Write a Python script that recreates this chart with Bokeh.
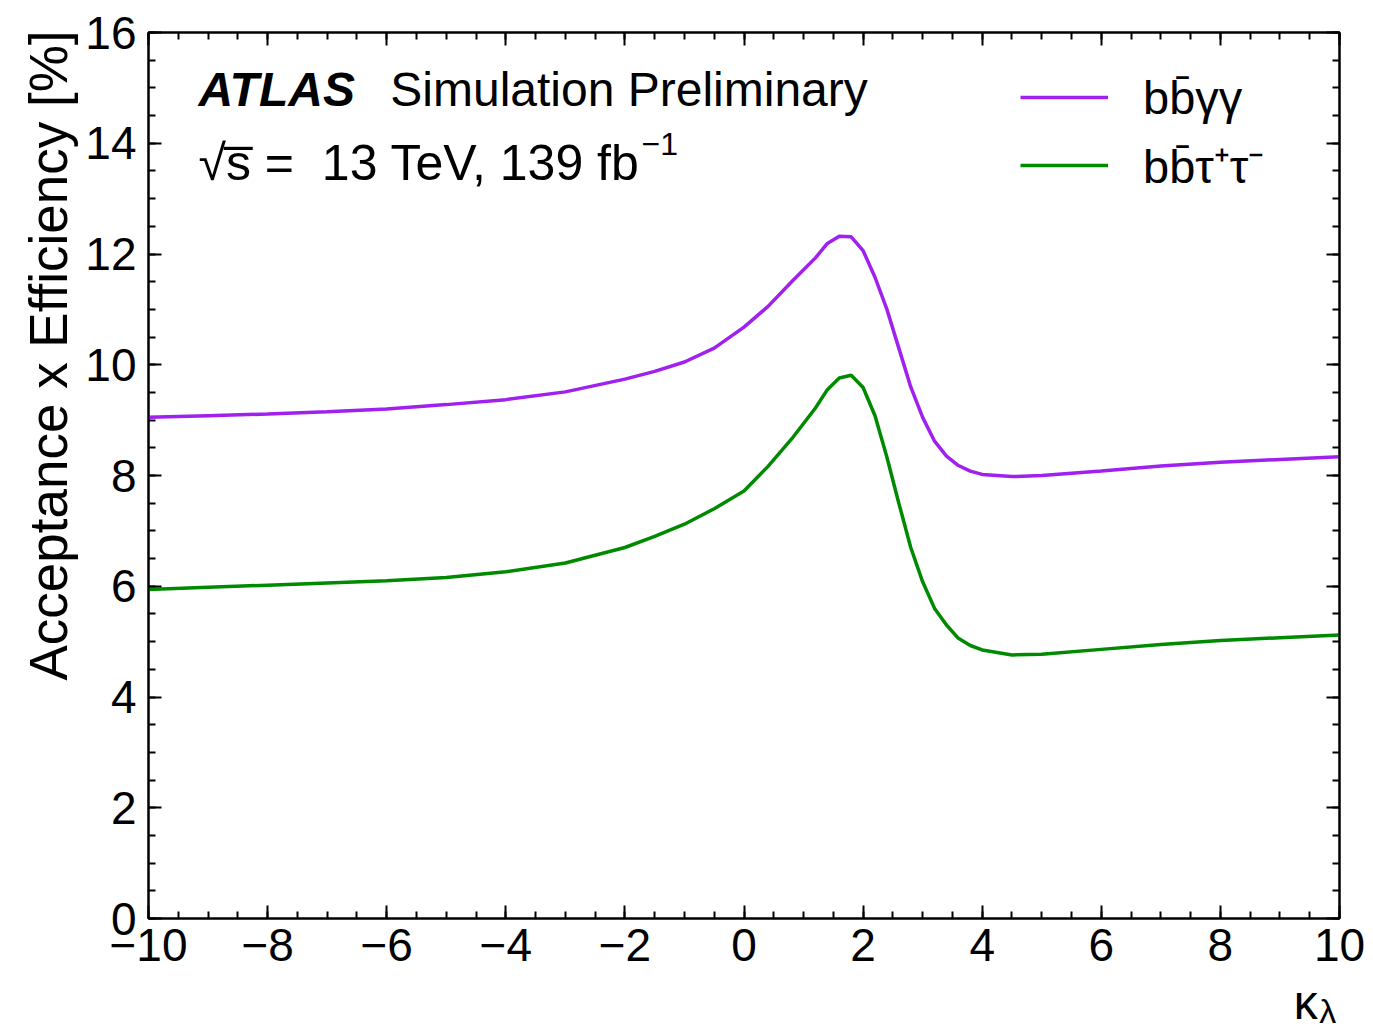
import numpy as np
from bokeh.plotting import figure
from bokeh.layouts import column
from bokeh.models import (Range1d, FixedTicker, LinearAxis, Label, Legend, LegendItem,
                          Title, CustomLabelingPolicy)
from bokeh.core.properties import value
from bokeh.embed import file_html
from bokeh.resources import INLINE

# ---------------- data ----------------
kappa = [-10, -9, -8, -7, -6, -5, -4, -3, -2, -1.5, -1, -0.5, 0, 0.4, 0.8, 1.2, 1.4,
         1.6, 1.8, 2.0, 2.2, 2.4, 2.6, 2.8, 3.0, 3.2, 3.4, 3.6, 3.8, 4.0, 4.5, 5, 6,
         7, 8, 9, 10]
acc_bbyy = [9.05, 9.08, 9.11, 9.15, 9.20, 9.28, 9.37, 9.51, 9.74, 9.88, 10.05, 10.30,
            10.68, 11.05, 11.50, 11.93, 12.19, 12.32, 12.31, 12.06, 11.58, 11.00, 10.30,
            9.60, 9.05, 8.62, 8.35, 8.18, 8.08, 8.02, 7.98, 8.00, 8.08, 8.17, 8.24,
            8.29, 8.34]
acc_bbtautau = [5.94, 5.98, 6.02, 6.06, 6.10, 6.16, 6.26, 6.42, 6.70, 6.90, 7.12, 7.40,
                7.72, 8.16, 8.66, 9.22, 9.55, 9.76, 9.81, 9.59, 9.08, 8.33, 7.50, 6.70,
                6.08, 5.60, 5.30, 5.06, 4.93, 4.85, 4.76, 4.77, 4.86, 4.95, 5.02, 5.07,
                5.12]
series_names = ["bb\u0304\u03b3\u03b3", "bb\u0304\u03c4\u207a\u03c4\u207b"]
series_colors = ["#a020f0", "#008a00"]

x_ticks = [-10, -8, -6, -4, -2, 0, 2, 4, 6, 8, 10]
x_tick_labels = ["\u221210", "\u22128", "\u22126", "\u22124", "\u22122", "0", "2", "4", "6", "8", "10"]
y_ticks = [0, 2, 4, 6, 8, 10, 12, 14, 16]
y_tick_labels = ["0", "2", "4", "6", "8", "10", "12", "14", "16"]

y_title = "Acceptance x Efficiency [%]"
x_title_main = "\u03ba"
x_title_sub = "\u03bb"

FONT = "Liberation Sans"
FS = "46px"
W = 1365

p = figure(width=W, height=985, output_backend="svg", toolbar_location=None,
           x_range=Range1d(-10, 10), y_range=Range1d(0, 16),
           min_border_left=148, min_border_right=26, min_border_top=32,
           min_border_bottom=67, background_fill_color="white",
           border_fill_color="white")
p.xgrid.visible = False
p.ygrid.visible = False
p.outline_line_color = "black"
p.outline_line_width = 2

x_minor = list(np.arange(-10, 10.01, 0.5))
y_minor = list(np.arange(0, 16.01, 0.5))

def style_axis(ax, ticks, minor, labels, show_labels):
    ax.ticker = FixedTicker(ticks=ticks, minor_ticks=minor)
    ax.axis_line_color = "black"
    ax.axis_line_width = 2
    ax.major_tick_in = 13
    ax.major_tick_out = 0
    ax.minor_tick_in = 7
    ax.minor_tick_out = 0
    ax.major_tick_line_width = 2
    ax.minor_tick_line_width = 2
    ax.major_tick_line_color = "black"
    ax.minor_tick_line_color = "black"
    ax.major_label_text_font = FONT
    ax.major_label_text_color = "black"
    if show_labels:
        ax.major_label_text_font_size = FS
        ax.major_label_overrides = {t: l for t, l in zip(ticks, labels)}
    else:
        ax.major_label_text_font_size = "1px"
        ax.major_label_standoff = 0
        ax.major_label_policy = CustomLabelingPolicy(
            code="for (const i of indices) indices.unset(i); return indices")
    ax.axis_label = None

style_axis(p.xaxis[0], x_ticks, x_minor, x_tick_labels, True)
style_axis(p.yaxis[0], y_ticks, y_minor, y_tick_labels, True)
p.xaxis[0].major_label_standoff = 10
p.yaxis[0].major_label_standoff = 12

ax_top = LinearAxis()
style_axis(ax_top, x_ticks, x_minor, x_tick_labels, False)
p.add_layout(ax_top, "above")
ax_right = LinearAxis()
style_axis(ax_right, y_ticks, y_minor, y_tick_labels, False)
p.add_layout(ax_right, "right")

# y-axis title, aligned to the top of the axis
p.add_layout(Title(text=y_title, align="right", text_font=FONT, text_font_size="53px",
                   text_font_style="normal", text_color="black", standoff=10,
                   offset=-2), "left")

r1 = p.line(kappa, acc_bbyy, line_color=series_colors[0], line_width=3.5)
r2 = p.line(kappa, acc_bbtautau, line_color=series_colors[1], line_width=3.5)

legend = Legend(items=[LegendItem(label=series_names[0], renderers=[r1]),
                       LegendItem(label=series_names[1], renderers=[r2])],
                location=(872, 719), glyph_width=88, glyph_height=68,
                label_height=68, label_standoff=35, spacing=0, padding=0,
                margin=0, border_line_alpha=0, background_fill_alpha=0,
                label_text_font=FONT, label_text_font_size="47px",
                label_text_color="black", label_text_baseline="middle")
p.add_layout(legend)

# texts inside the frame
p.add_layout(Label(x=-9.16, y=14.97, text="ATLAS", text_font=FONT,
                   text_font_size="48px", text_font_style="bold italic",
                   text_color="black", text_baseline="alphabetic"))
p.add_layout(Label(x=-5.94, y=14.97, text="Simulation Preliminary", text_font=FONT,
                   text_font_size="48px", text_color="black",
                   text_baseline="alphabetic"))
p.add_layout(Label(x=-9.16, y=13.65,
                   text="\u221as\u0305 =\u00a0 13 TeV, 139 fb",
                   text_font=FONT, text_font_size="50px", text_color="black",
                   text_baseline="alphabetic"))
p.add_layout(Label(x=-1.72, y=13.98, text="\u22121", text_font=FONT,
                   text_font_size="32px", text_color="black",
                   text_baseline="alphabetic"))

# strip below the main plot holding the x-axis title (kappa_lambda)
p2 = figure(width=W, height=45, output_backend="svg", toolbar_location=None,
            x_range=p.x_range, y_range=Range1d(0, 45),
            min_border_left=148, min_border_right=26, min_border_top=0,
            min_border_bottom=0, x_axis_type=None, y_axis_type=None,
            outline_line_color=None, background_fill_color="white",
            border_fill_color="white")
p2.xgrid.visible = False
p2.ygrid.visible = False
p2.text(x=[9.23], y=[28], text=[x_title_main], text_font=value(FONT),
        text_font_size="48px", text_color="black", text_baseline="alphabetic")
p2.text(x=[9.66], y=[20], text=[x_title_sub], text_font=value(FONT),
        text_font_size="34px", text_color="black", text_baseline="alphabetic")

layout = column(p, p2, spacing=0)
open("out.html", "w").write(file_html(layout, INLINE))
